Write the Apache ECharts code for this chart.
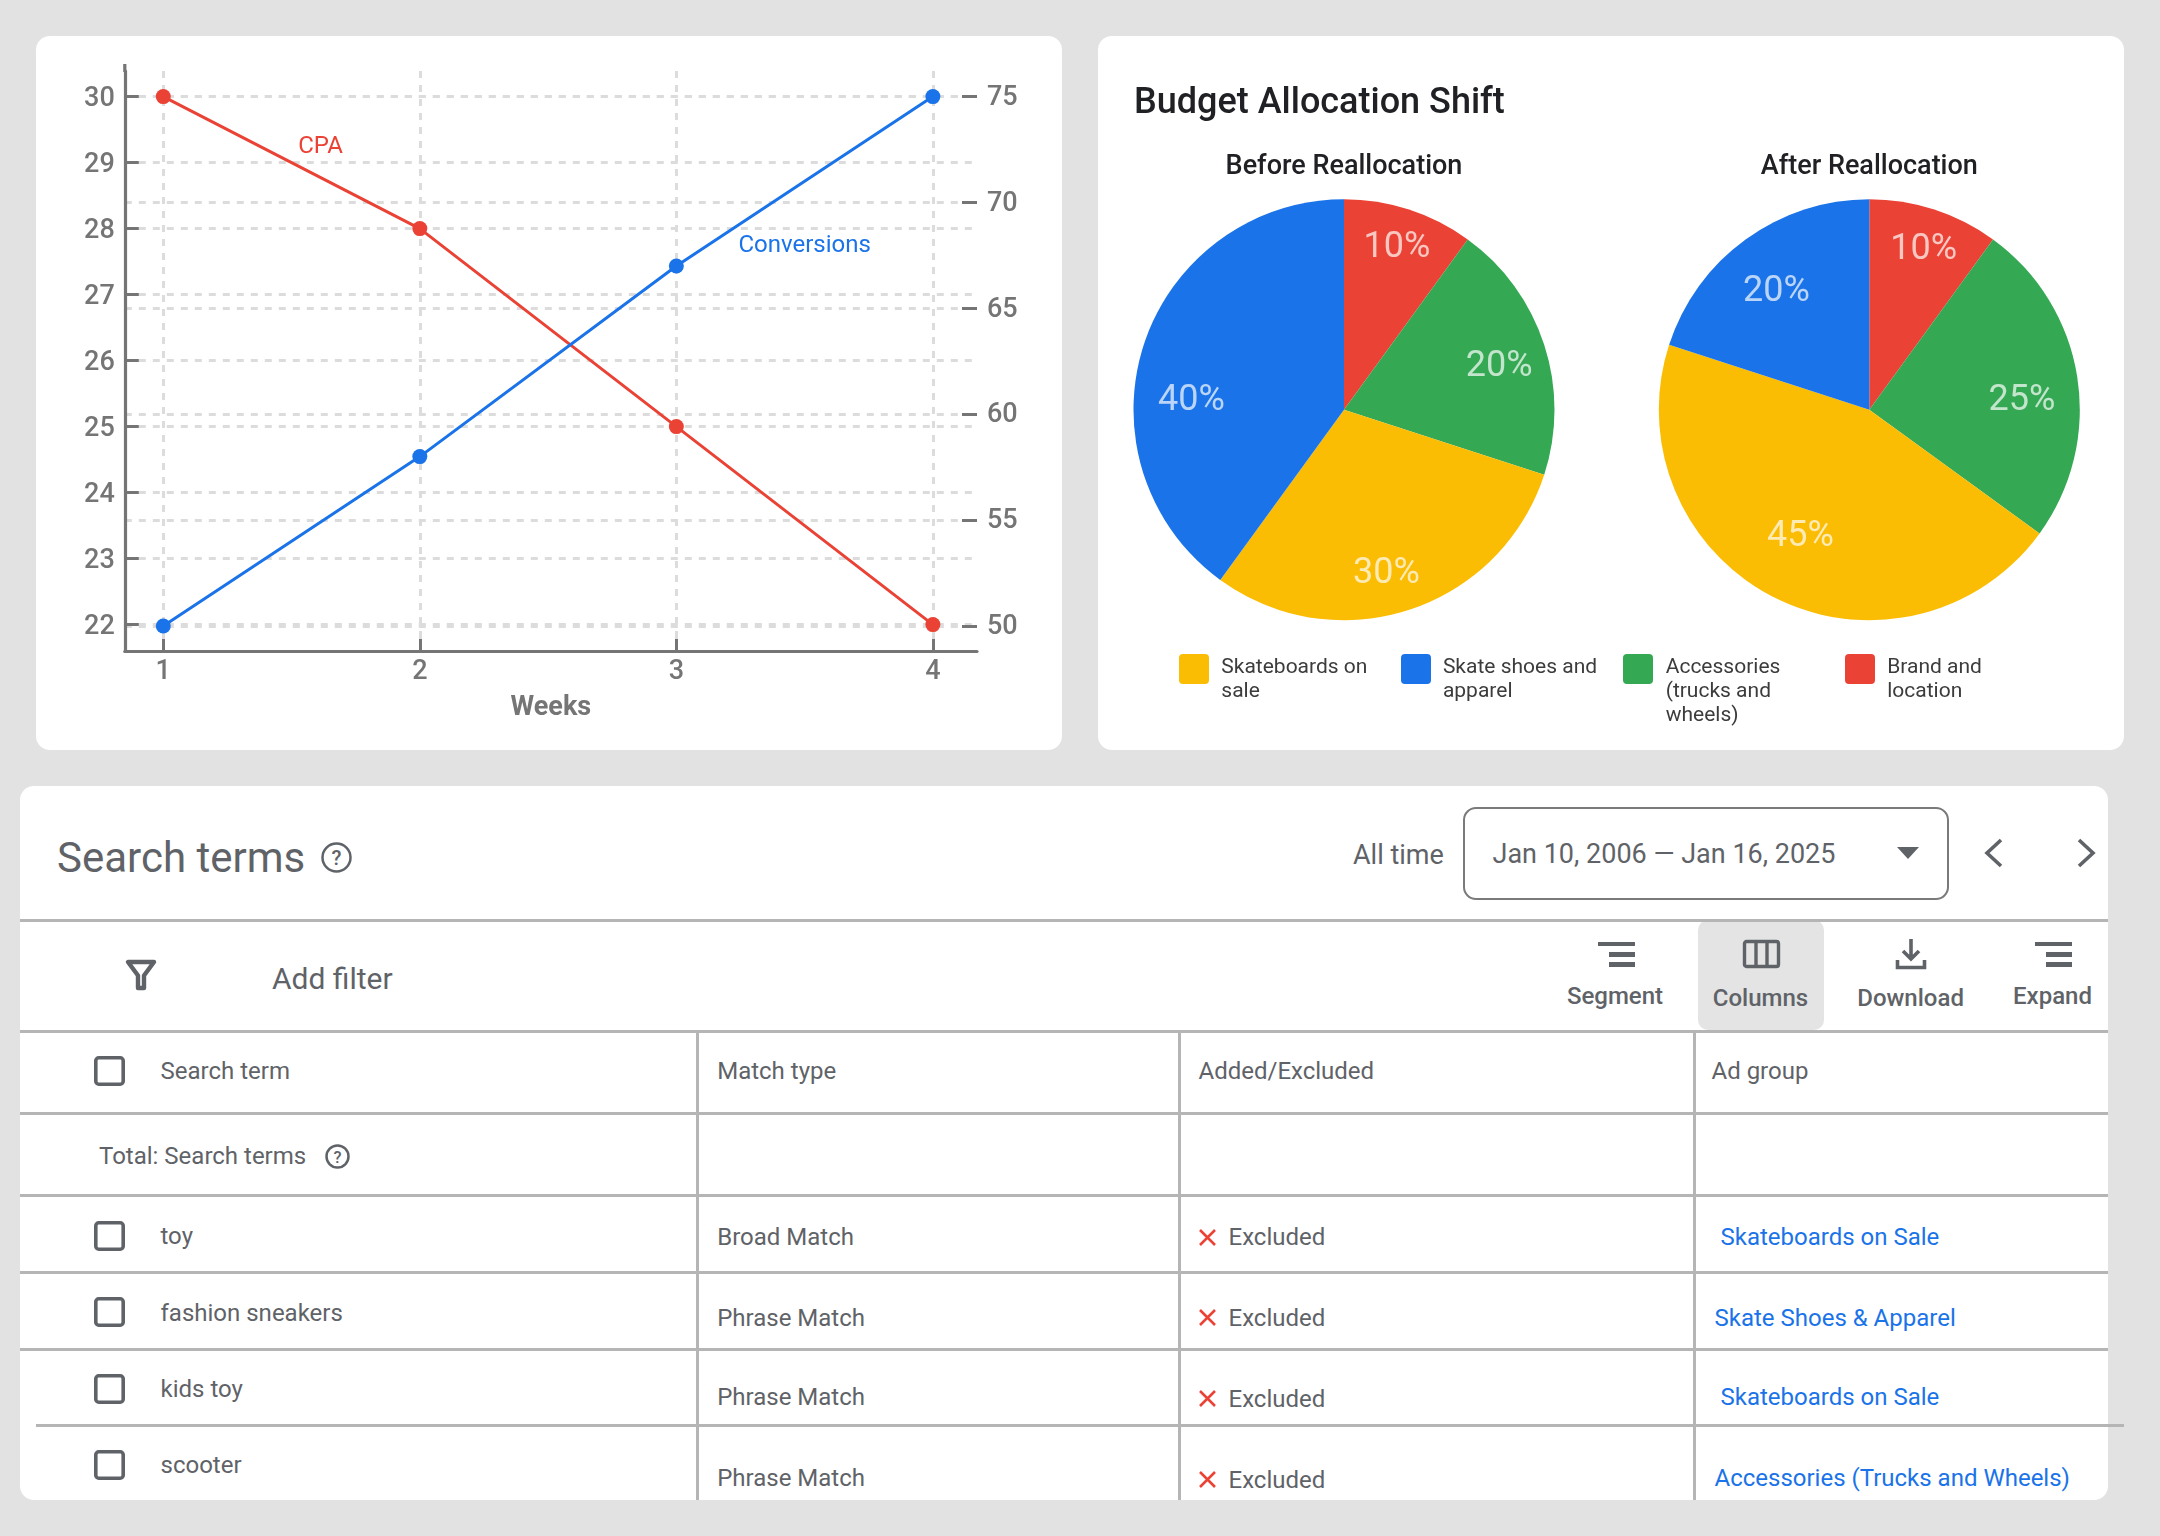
<!DOCTYPE html>
<html>
<head>
<meta charset="utf-8">
<title>Search terms report</title>
<script src="https://cdn.jsdelivr.net/npm/echarts@6/dist/echarts.min.js"></script>
<style>
html,body{margin:0;padding:0;width:2160px;height:1536px;overflow:hidden;background:#e2e2e2;font-family:Roboto,sans-serif;}
.card{position:absolute;background:#fff;border-radius:14px;}
.txt{position:absolute;white-space:nowrap;transform:translateY(-50%);}
.rule{position:absolute;background:#b5b5b5;}
svg{position:absolute;overflow:visible;}
</style>
</head>
<body>
<div class="card" style="left:36px;top:36px;width:1026px;height:714px"><div id="lineChart" style="width:1026px;height:714px"></div></div>
<div class="card" style="left:1098px;top:36px;width:1026px;height:714px"><div id="pieChart" style="width:1026px;height:714px"></div></div>
<div class="card" style="left:20px;top:786px;width:2088px;height:714px"></div>
<div id="table"></div>
<script>
// line chart
var weeks = [1, 2, 3, 4];
var cpaValues = [30, 28, 25, 22];
var conversionValues = [50, 58, 67, 75];
var leftTicks = [22, 23, 24, 25, 26, 27, 28, 29, 30];
var rightTicks = [50, 55, 60, 65, 70, 75];

// pies
var sliceNames = ['Brand and location', 'Accessories (trucks and wheels)', 'Skateboards on sale', 'Skate shoes and apparel'];
var beforeValues = [10, 20, 30, 40];
var afterValues = [10, 25, 45, 20];

// table
var columnNames = ['Search term', 'Match type', 'Added/Excluded', 'Ad group'];
var searchTerms = ['toy', 'fashion sneakers', 'kids toy', 'scooter'];
var matchTypes = ['Broad Match', 'Phrase Match', 'Phrase Match', 'Phrase Match'];
var addedExcluded = ['Excluded', 'Excluded', 'Excluded', 'Excluded'];
var adGroups = ['Skateboards on Sale', 'Skate Shoes & Apparel', 'Skateboards on Sale', 'Accessories (Trucks and Wheels)'];

var RED = '#ea4335', GREEN = '#34a853', YELLOW = '#fbbc04', BLUE = '#1a73e8';
var AXIS = '#757575', LABEL = '#757575', GRID = '#dcdcdc', INK = '#5f6368';
var FONT = 'Roboto';

function pairs(xs, ys) {
	return xs.map(function (x, i) { return [x, ys[i]]; });
}

function init_lineChart() {
	var myChart = echarts.init(document.getElementById('lineChart'));
	var splitLine = { show: true, showMinLine: true, showMaxLine: true, lineStyle: { color: GRID, width: 3, type: [7, 7] } };
	var option = {
		animation: false,
		textStyle: { fontFamily: FONT },
		grid: { left: 88.8, top: 35, width: 852.2, height: 579.8 },
		graphic: [{
			type: 'line', shape: { x1: 88.8, y1: 28, x2: 88.8, y2: 36 },
			style: { stroke: AXIS, lineWidth: 3.2 }
		}],
		xAxis: {
			type: 'value', min: 0.85, max: 4.172,
			name: 'Weeks', nameLocation: 'middle', nameGap: 44,
			nameTextStyle: { color: LABEL, fontSize: 27, fontWeight: 'bold', fontFamily: FONT },
			axisLine: { show: true, onZero: false, lineStyle: { color: AXIS, width: 3.2 } },
			axisTick: { show: true, inside: true, length: 12, customValues: weeks, lineStyle: { color: AXIS, width: 3 } },
			axisLabel: { customValues: weeks, color: LABEL, fontSize: 27, fontWeight: 500, margin: 8 },
			splitLine: splitLine
		},
		yAxis: [{
			type: 'value', min: 21.603, max: 30.388, position: 'left',
			axisLine: { show: true, onZero: false, lineStyle: { color: AXIS, width: 3.2 } },
			axisTick: { show: true, inside: true, length: 14, customValues: leftTicks, lineStyle: { color: AXIS, width: 3 } },
			axisLabel: { customValues: leftTicks, color: LABEL, fontSize: 27, fontWeight: 500, margin: 10, verticalAlign: 'top', lineHeight: 5 },
			splitLine: splitLine
		}, {
			type: 'value', min: 48.829, max: 76.209, position: 'right',
			axisLine: { show: false },
			axisTick: { show: true, inside: true, length: 15, customValues: rightTicks, lineStyle: { color: AXIS, width: 3 } },
			axisLabel: { customValues: rightTicks, color: LABEL, fontSize: 27, fontWeight: 500, margin: 10, verticalAlign: 'top', lineHeight: 3 },
			splitLine: splitLine
		}],
		series: [{
			name: 'CPA', type: 'line', yAxisIndex: 0, data: pairs(weeks, cpaValues),
			symbol: 'circle', symbolSize: 15, z: 3,
			lineStyle: { color: RED, width: 3 }, itemStyle: { color: RED },
			markPoint: {
				symbol: 'circle', symbolSize: 0,
				data: [{ coord: [1.613, 29.23], label: { show: true, position: 'inside', formatter: 'CPA', color: RED, fontSize: 24, fontFamily: FONT } }]
			}
		}, {
			name: 'Conversions', type: 'line', yAxisIndex: 1, data: pairs(weeks, conversionValues),
			symbol: 'circle', symbolSize: 15, z: 4,
			lineStyle: { color: BLUE, width: 3 }, itemStyle: { color: BLUE },
			markPoint: {
				symbol: 'circle', symbolSize: 0,
				data: [{ coord: [3.5, 67.93], label: { show: true, position: 'inside', formatter: 'Conversions', color: BLUE, fontSize: 24, fontFamily: FONT } }]
			}
		}]
	};
	myChart.setOption(option);
}

function init_pieChart() {
	var myChart = echarts.init(document.getElementById('pieChart'));
	// label centres inside the card, slices in data order
	var beforeSpots = [[299, 211.5], [401.2, 331.3], [288.5, 538.4], [93.5, 364.8]];
	var afterSpots = [[825.7, 214.2], [923.9, 364.8], [702.4, 500.7], [678.5, 256]];
	function pie(values, cx, spots) {
		return {
			type: 'pie', radius: 210.5, center: [cx, 373.7], startAngle: 90, clockwise: true,
			silent: true,
			data: sliceNames.map(function (n, i) {
				return { name: n, value: values[i], itemStyle: { color: [RED, GREEN, YELLOW, BLUE][i] } };
			}),
			label: { show: true, position: 'inside', formatter: '{c}%', color: 'rgba(255,255,255,0.7)', fontSize: 36, fontFamily: FONT },
			labelLine: { show: false },
			labelLayout: function (params) {
				return { x: spots[params.dataIndex][0], y: spots[params.dataIndex][1], align: 'center', verticalAlign: 'middle' };
			}
		};
	}
	var option = {
		animation: false,
		textStyle: { fontFamily: FONT },
		title: [
			{ text: 'Budget Allocation Shift', left: 36, top: 50, padding: 0, textStyle: { color: '#202124', fontSize: 36, fontWeight: 500, fontFamily: FONT } },
			{ text: 'Before Reallocation', left: 246, top: 117.5, padding: 0, textAlign: 'center', textStyle: { color: '#202124', fontSize: 27, fontWeight: 500, fontFamily: FONT } },
			{ text: 'After Reallocation', left: 771.3, top: 117.5, padding: 0, textAlign: 'center', textStyle: { color: '#202124', fontSize: 27, fontWeight: 500, fontFamily: FONT } }
		],
		series: [pie(beforeValues, 246, beforeSpots), pie(afterValues, 771.3, afterSpots)]
	};
	myChart.setOption(option);
}

function addText(text, x, y, size, color, weight, align) {
	var d = document.createElement('div');
	d.className = 'txt';
	d.textContent = text;
	d.style.top = y + 'px';
	d.style.fontSize = size + 'px';
	d.style.color = color;
	d.style.fontWeight = weight || 400;
	if (align === 'center') {
		d.style.left = (x - 150) + 'px';
		d.style.width = '300px';
		d.style.textAlign = 'center';
	} else {
		d.style.left = x + 'px';
	}
	document.getElementById('table').appendChild(d);
}

function addRule(x, y, w, h) {
	var d = document.createElement('div');
	d.className = 'rule';
	d.style.cssText = 'left:' + x + 'px;top:' + y + 'px;width:' + w + 'px;height:' + h + 'px';
	document.getElementById('table').appendChild(d);
}

function addSvg(x, y, w, h, body) {
	var holder = document.createElement('div');
	holder.innerHTML = '<svg style="left:' + x + 'px;top:' + y + 'px" width="' + w + '" height="' + h + '" viewBox="0 0 ' + w + ' ' + h + '">' + body + '</svg>';
	document.getElementById('table').appendChild(holder);
}

function addCheckbox(cy) {
	addSvg(94, cy - 15, 31, 30, '<rect x="1.8" y="1.8" width="27.4" height="26.4" rx="3" fill="none" stroke="' + INK + '" stroke-width="3.6"/>');
}

function addHelp(cx, cy, d) {
	var r = d / 2;
	addSvg(cx - r, cy - r, d, d, '<circle cx="' + r + '" cy="' + r + '" r="' + (r - 1.5) + '" fill="none" stroke="' + INK + '" stroke-width="2.5"/>' +
		'<text x="' + r + '" y="' + (r + d * 0.24) + '" text-anchor="middle" font-size="' + (d * 0.66) + '" font-weight="500" fill="' + INK + '">?</text>');
}

function addLinesIcon(x) {
	addSvg(x, 942, 37, 25, '<rect x="0" y="0" width="37" height="4" fill="' + INK + '"/><rect x="11" y="10" width="26" height="5" fill="' + INK + '"/><rect x="11" y="20" width="26" height="5" fill="' + INK + '"/>');
}

function legendItem(color, x, textX, lines) {
	var holder = document.createElement('div');
	holder.style.cssText = 'position:absolute;left:' + x + 'px;top:654px;width:30px;height:30px;border-radius:4px;background:' + color;
	document.getElementById('table').appendChild(holder);
	lines.forEach(function (line, i) {
		addText(line, textX, 666 + i * 24, 21, '#3c3c3c');
	});
}

function build_page() {
	// legend of the pies
	legendItem(YELLOW, 1179, 1221.3, ['Skateboards on', 'sale']);
	legendItem(BLUE, 1401, 1442.9, ['Skate shoes and', 'apparel']);
	legendItem(GREEN, 1623.3, 1665.7, ['Accessories', '(trucks and', 'wheels)']);
	legendItem(RED, 1844.8, 1887.2, ['Brand and', 'location']);

	// header
	addText('Search terms', 57, 857, 42, INK);
	addHelp(336, 857, 31);
	addText('All time', 1353, 855, 27, INK);
	addSvg(1463, 807, 486, 93, '<rect x="1" y="1" width="484" height="91" rx="12" fill="#fff" stroke="#7a7a7a" stroke-width="2"/>');
	addText('Jan 10, 2006 \u2014 Jan 16, 2025', 1492.5, 854, 27, INK);
	addSvg(1897, 847, 22, 12, '<path d="M0 0H22L11 12Z" fill="' + INK + '"/>');
	addSvg(1984, 838, 20, 30, '<path d="M17 2L3 15L17 28" fill="none" stroke="' + INK + '" stroke-width="3.6"/>');
	addSvg(2076, 838, 20, 30, '<path d="M3 2L17 15L3 28" fill="none" stroke="' + INK + '" stroke-width="3.6"/>');

	// toolbar
	addSvg(1698, 920, 126, 110, '<rect width="126" height="110" rx="10" fill="#e4e4e4"/>');
	addSvg(126, 960, 30, 30, '<path d="M2 2H28L18 15.5V28H12V15.5Z" fill="none" stroke="' + INK + '" stroke-width="4.4" stroke-linejoin="round"/>');
	addText('Add filter', 272, 978, 30, INK);
	addLinesIcon(1598);
	addText('Segment', 1615, 996, 24, INK, 500, 'center');
	addSvg(1743, 940, 37, 28, '<rect x="1.5" y="1.5" width="34" height="25" rx="2" fill="none" stroke="' + INK + '" stroke-width="3.4"/><path d="M13 1.5V26.5M24 1.5V26.5" stroke="' + INK + '" stroke-width="3.4"/>');
	addText('Columns', 1760.5, 997.5, 24, INK, 500, 'center');
	addSvg(1896, 939, 30, 30, '<path d="M15 0V19M7 12L15 20L23 12" fill="none" stroke="' + INK + '" stroke-width="3.6"/><path d="M1.5 21V28.5H28.5V21" fill="none" stroke="' + INK + '" stroke-width="3.6"/>');
	addText('Download', 1910.6, 998, 24, INK, 500, 'center');
	addLinesIcon(2035);
	addText('Expand', 2052.5, 996, 24, INK, 500, 'center');

	// rules
	[919, 1030, 1112, 1194, 1271, 1348].forEach(function (y) { addRule(20, y, 2088, 3); });
	addRule(36, 1424, 2088, 3);
	[696, 1178, 1693].forEach(function (x) { addRule(x, 1031, 3, 469); });

	// column headers
	addCheckbox(1071);
	addText(columnNames[0], 160.5, 1070.7, 24, INK);
	addText(columnNames[1], 717.2, 1070.7, 24, INK);
	addText(columnNames[2], 1198.5, 1070.7, 24, INK);
	addText(columnNames[3], 1711.5, 1070.7, 24, INK);

	// total row
	addText('Total: Search terms', 99, 1155.5, 24, INK);
	addHelp(337.5, 1156, 25);

	// rows
	var checkY = [1235.6, 1312, 1389, 1465];
	var termY = [1235.8, 1312.6, 1389, 1465.2];
	var matchY = [1237, 1317.6, 1397, 1478];
	var addedY = [1237, 1317.6, 1398.6, 1479.6];
	var groupY = [1237, 1317.6, 1397, 1478];
	var groupX = [1720.5, 1714.5, 1720.5, 1714.5];
	searchTerms.forEach(function (term, i) {
		addCheckbox(checkY[i]);
		addText(term, 160.5, termY[i], 24, INK);
		addText(matchTypes[i], 717.2, matchY[i], 24, INK);
		addSvg(1198.5, addedY[i] - 8.5, 17, 17, '<path d="M1 1L16 16M16 1L1 16" stroke="' + RED + '" stroke-width="2.6"/>');
		addText(addedExcluded[i], 1228.5, addedY[i], 24, INK);
		addText(adGroups[i], groupX[i], groupY[i], 24, BLUE);
	});
}

init_lineChart();
init_pieChart();
build_page();
</script>
</body>
</html>
